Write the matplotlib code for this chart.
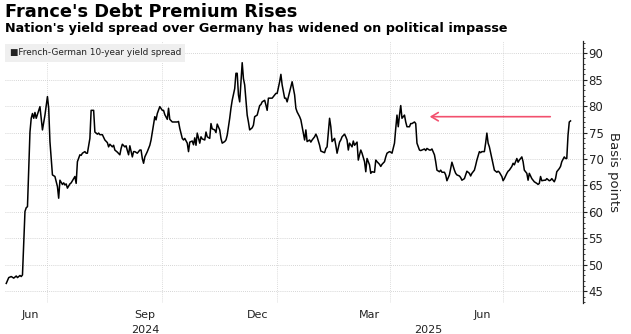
import matplotlib
matplotlib.use("Agg")
import matplotlib.pyplot as plt
import matplotlib.dates as mdates
import matplotlib.transforms as mtransforms
from matplotlib.ticker import MultipleLocator, FixedLocator
import pandas as pd

# French-German 10-year yield spread, basis points
dates = [
    "2024-05-29", "2024-05-31", "2024-06-02", "2024-06-04", "2024-06-06", "2024-06-07",
    "2024-06-09", "2024-06-10", "2024-06-11", "2024-06-13", "2024-06-14", "2024-06-15",
    "2024-06-17", "2024-06-18", "2024-06-19", "2024-06-20", "2024-06-21", "2024-06-22",
    "2024-06-24", "2024-06-25", "2024-06-27", "2024-06-29", "2024-07-01", "2024-07-02",
    "2024-07-03", "2024-07-05", "2024-07-07", "2024-07-09", "2024-07-10", "2024-07-11",
    "2024-07-13", "2024-07-14", "2024-07-15", "2024-07-16", "2024-07-17", "2024-07-19",
    "2024-07-20", "2024-07-21", "2024-07-23", "2024-07-24", "2024-07-25", "2024-07-27",
    "2024-07-28", "2024-07-29", "2024-07-31", "2024-08-01", "2024-08-02", "2024-08-04",
    "2024-08-05", "2024-08-07", "2024-08-08", "2024-08-10", "2024-08-11", "2024-08-12",
    "2024-08-14", "2024-08-16", "2024-08-18", "2024-08-19", "2024-08-20", "2024-08-22",
    "2024-08-23", "2024-08-24", "2024-08-26", "2024-08-28", "2024-08-29", "2024-08-30",
    "2024-09-01", "2024-09-02", "2024-09-03", "2024-09-04", "2024-09-05", "2024-09-07",
    "2024-09-08", "2024-09-09", "2024-09-11", "2024-09-13", "2024-09-14", "2024-09-15",
    "2024-09-16", "2024-09-17", "2024-09-19", "2024-09-21", "2024-09-22", "2024-09-23",
    "2024-09-25", "2024-09-26", "2024-09-27", "2024-09-29", "2024-10-01", "2024-10-02",
    "2024-10-03", "2024-10-05", "2024-10-06", "2024-10-07", "2024-10-09", "2024-10-11",
    "2024-10-13", "2024-10-14", "2024-10-15", "2024-10-17", "2024-10-18", "2024-10-19",
    "2024-10-21", "2024-10-22", "2024-10-23", "2024-10-25", "2024-10-26", "2024-10-27",
    "2024-10-28", "2024-10-29", "2024-10-31", "2024-11-01", "2024-11-02", "2024-11-04",
    "2024-11-05", "2024-11-06", "2024-11-08", "2024-11-09", "2024-11-10", "2024-11-12",
    "2024-11-13", "2024-11-14", "2024-11-16", "2024-11-17", "2024-11-18", "2024-11-20",
    "2024-11-21", "2024-11-22", "2024-11-24", "2024-11-25", "2024-11-26", "2024-11-28",
    "2024-11-29", "2024-11-30", "2024-12-01", "2024-12-02", "2024-12-03", "2024-12-04",
    "2024-12-05", "2024-12-06", "2024-12-08", "2024-12-09", "2024-12-10", "2024-12-12",
    "2024-12-13", "2024-12-14", "2024-12-16", "2024-12-18", "2024-12-19", "2024-12-20",
    "2024-12-22", "2024-12-23", "2024-12-24", "2024-12-25", "2024-12-27", "2024-12-28",
    "2024-12-30", "2024-12-31", "2025-01-01", "2025-01-03", "2025-01-04", "2025-01-05",
    "2025-01-07", "2025-01-08", "2025-01-09", "2025-01-11", "2025-01-12", "2025-01-13",
    "2025-01-15", "2025-01-16", "2025-01-17", "2025-01-19", "2025-01-20", "2025-01-21",
    "2025-01-23", "2025-01-24", "2025-01-25", "2025-01-27", "2025-01-28", "2025-01-29",
    "2025-01-31", "2025-02-01", "2025-02-02", "2025-02-04", "2025-02-05", "2025-02-06",
    "2025-02-08", "2025-02-09", "2025-02-10", "2025-02-12", "2025-02-13", "2025-02-14",
    "2025-02-16", "2025-02-17", "2025-02-18", "2025-02-20", "2025-02-21", "2025-02-22",
    "2025-02-24", "2025-02-25", "2025-02-26", "2025-02-27", "2025-02-28", "2025-03-02",
    "2025-03-03", "2025-03-04", "2025-03-06", "2025-03-07", "2025-03-08", "2025-03-09",
    "2025-03-10", "2025-03-12", "2025-03-13", "2025-03-14", "2025-03-16", "2025-03-17",
    "2025-03-18", "2025-03-20", "2025-03-21", "2025-03-22", "2025-03-24", "2025-03-25",
    "2025-03-26", "2025-03-28", "2025-03-29", "2025-03-30", "2025-04-01", "2025-04-02",
    "2025-04-03", "2025-04-05", "2025-04-06", "2025-04-07", "2025-04-08", "2025-04-09",
    "2025-04-10", "2025-04-11", "2025-04-13", "2025-04-14", "2025-04-15", "2025-04-17",
    "2025-04-18", "2025-04-19", "2025-04-21", "2025-04-22", "2025-04-23", "2025-04-25",
    "2025-04-26", "2025-04-27", "2025-04-29", "2025-04-30", "2025-05-01", "2025-05-03",
    "2025-05-04", "2025-05-05", "2025-05-07", "2025-05-08", "2025-05-09", "2025-05-11",
    "2025-05-12", "2025-05-13", "2025-05-15", "2025-05-16", "2025-05-17", "2025-05-19",
    "2025-05-20", "2025-05-21", "2025-05-23", "2025-05-24", "2025-05-25", "2025-05-27",
    "2025-05-28", "2025-05-29", "2025-05-31", "2025-06-01", "2025-06-02", "2025-06-04",
    "2025-06-05", "2025-06-06", "2025-06-08", "2025-06-09", "2025-06-10", "2025-06-12",
    "2025-06-13", "2025-06-14", "2025-06-16", "2025-06-17", "2025-06-18", "2025-06-19",
    "2025-06-20", "2025-06-22", "2025-06-23", "2025-06-24", "2025-06-26", "2025-06-27",
    "2025-06-28", "2025-06-30", "2025-07-01", "2025-07-02", "2025-07-04", "2025-07-05",
    "2025-07-06", "2025-07-08", "2025-07-09", "2025-07-10", "2025-07-12", "2025-07-13",
    "2025-07-14", "2025-07-16", "2025-07-17", "2025-07-18", "2025-07-20", "2025-07-21",
    "2025-07-22", "2025-07-24", "2025-07-25", "2025-07-26", "2025-07-28", "2025-07-29",
    "2025-07-30", "2025-07-31", "2025-08-01", "2025-08-03", "2025-08-04", "2025-08-05",
    "2025-08-07", "2025-08-08", "2025-08-09", "2025-08-11", "2025-08-12", "2025-08-13",
    "2025-08-15", "2025-08-16", "2025-08-17", "2025-08-19", "2025-08-20", "2025-08-21",
    "2025-08-22", "2025-08-23", "2025-08-24",
]
spread = [
    46.5, 47.6, 47.8, 47.5, 47.9, 47.6,
    48.0, 47.8, 48.1, 60.1, 60.8, 61.0,
    75.1, 77.7, 78.6, 77.7, 78.8, 77.7,
    79.2, 79.9, 75.5, 78.3, 81.8, 79.6,
    73.3, 67.0, 66.7, 64.8, 62.6, 66.0,
    65.2, 65.5, 65.1, 65.3, 64.5, 65.3,
    65.5, 65.9, 66.7, 65.4, 69.5, 70.8,
    70.7, 71.1, 71.4, 71.1, 71.1, 73.9,
    79.2, 79.2, 75.1, 74.7, 74.9, 74.6,
    74.6, 73.6, 73.1, 72.3, 72.8, 72.3,
    72.6, 71.7, 71.3, 70.8, 72.0, 72.8,
    72.3, 72.5, 71.6, 70.8, 72.5, 70.4,
    71.4, 71.4, 71.1, 71.7, 71.7, 70.1,
    69.2, 70.4, 71.4, 72.6, 73.6, 75.1,
    78.0, 77.4, 78.6, 79.9, 79.2, 79.2,
    78.4, 77.5, 79.6, 77.5, 77.0, 77.0,
    77.0, 77.1, 75.8, 73.9, 73.6, 73.9,
    73.0, 71.4, 73.2, 73.4, 72.7, 74.0,
    72.6, 74.9, 73.0, 74.2, 73.8, 73.6,
    75.1, 74.2, 73.9, 76.7, 75.7, 75.5,
    75.0, 76.6, 75.5, 73.9, 73.0, 73.3,
    73.6, 74.5, 77.7, 79.6, 81.1, 83.3,
    86.2, 86.2, 82.1, 80.8, 84.6, 88.2,
    85.2, 84.0, 78.3, 77.0, 75.5, 75.9,
    76.4, 78.0, 78.3, 80.1, 80.3, 80.8,
    81.1, 80.2, 79.2, 81.5, 81.5, 81.5,
    82.1, 82.4, 82.4, 84.6, 86.0, 84.0,
    81.5, 81.5, 80.8, 82.7, 83.6, 84.6,
    82.1, 79.6, 78.9, 78.0, 77.4, 76.1,
    73.6, 75.5, 73.3, 73.6, 73.2, 73.6,
    74.2, 74.7, 74.2, 72.6, 71.5, 71.4,
    71.2, 72.0, 72.3, 77.7, 76.1, 73.3,
    73.9, 72.6, 71.1, 73.2, 73.6, 74.2,
    74.7, 74.2, 73.6, 71.7, 73.0, 72.3,
    73.4, 72.6, 73.2, 69.8, 70.8, 71.7,
    71.1, 69.5, 67.6, 70.1, 68.9, 67.3,
    67.6, 67.5, 69.8, 69.5, 69.0, 68.6,
    69.0, 69.5, 70.4, 71.1, 71.4, 71.3,
    71.1, 73.0, 75.8, 78.3, 76.1, 78.3,
    80.1, 77.7, 78.3, 77.0, 76.1, 76.1,
    76.7, 76.7, 77.0, 76.7, 73.0, 71.7,
    71.6, 71.7, 71.9, 71.6, 72.0, 71.7,
    71.7, 71.9, 70.8, 69.5, 67.9, 67.6,
    67.9, 67.5, 67.5, 67.0, 65.9, 67.0,
    68.2, 69.4, 67.9, 67.3, 67.0, 66.8,
    66.5, 66.0, 66.3, 67.0, 67.7, 67.3,
    66.8, 67.3, 67.9, 68.8, 69.8, 71.4,
    71.2, 71.4, 71.4, 73.0, 74.9, 73.0,
    72.3, 70.1, 68.9, 67.9, 67.5, 67.7,
    67.5, 66.7, 65.9, 66.3, 67.3, 67.7,
    67.9, 68.6, 69.2, 68.9, 70.1, 69.4,
    69.8, 70.4, 69.5, 67.9, 67.3, 66.0,
    67.3, 66.3, 66.0, 65.7, 65.4, 65.2,
    65.4, 66.7, 65.9, 66.0, 66.0, 66.3,
    65.9, 66.0, 66.3, 65.7, 66.3, 67.6,
    68.2, 68.6, 69.5, 70.4, 70.1, 70.1,
    74.5, 77.0, 77.2,
]

# axis labels
month_labels = ["Jun", "Sep", "Dec", "Mar", "Jun"]
month_label_dates = ["2024-06-17", "2024-09-17", "2024-12-16", "2025-03-16", "2025-06-14"]
grid_dates = ["2024-07-01", "2024-10-01", "2025-01-01", "2025-04-01", "2025-07-01"]
year_labels = ["2024", "2025"]
year_label_dates = ["2024-09-17", "2025-05-02"]
y_ticks = [45, 50, 55, 60, 65, 70, 75, 80, 85, 90]

# red arrow: from the latest level back to the April peak level
arrow_start = ("2025-08-10", 78.0)
arrow_end = ("2025-05-01", 78.0)

x = pd.to_datetime(dates)

fig = plt.figure(figsize=(6.31, 3.34), dpi=100)
ax = fig.add_axes([5 / 631, 1 - 303 / 334, 578 / 631, 262 / 334])

ax.plot(x, spread, color="black", lw=1.1, solid_joinstyle="round")

ax.set_xlim(pd.Timestamp("2024-05-28"), pd.Timestamp("2025-09-03"))
ax.set_ylim(42.8, 92.3)

# y axis on the right
ax.yaxis.tick_right()
ax.yaxis.set_label_position("right")
ax.set_yticks(y_ticks)
ax.yaxis.set_minor_locator(MultipleLocator(1))
ax.tick_params(axis="y", which="major", length=3, width=0.8, labelsize=8.5,
               pad=1, colors="#222222")
ax.tick_params(axis="y", which="minor", length=1.5, width=0.6, colors="#222222")
ax.set_ylabel("Basis points", rotation=270, labelpad=12, fontsize=9.5, color="#222222")

# x axis: month labels mid-month, gridlines at quarter boundaries
ax.set_xticks(pd.to_datetime(month_label_dates))
ax.set_xticklabels(month_labels)
ax.xaxis.set_minor_locator(FixedLocator(mdates.date2num(pd.to_datetime(grid_dates))))
ax.tick_params(axis="x", which="both", length=0, labelsize=8, pad=5, colors="#222222")

ax.grid(axis="y", which="major", color="#c8c8c8", ls=(0, (1, 1.5)), lw=0.6)
ax.grid(axis="x", which="minor", color="#d0d0d0", ls=(0, (1, 1.5)), lw=0.6)
ax.grid(axis="x", which="major", visible=False)

for side in ["top", "left", "bottom"]:
    ax.spines[side].set_visible(False)
ax.spines["right"].set_linewidth(0.9)
ax.spines["right"].set_color("#222222")

trans = mtransforms.blended_transform_factory(ax.transData, ax.transAxes)
for lab, d in zip(year_labels, year_label_dates):
    ax.text(pd.Timestamp(d), -0.085, lab, transform=trans, ha="center", va="top",
            fontsize=8, color="#222222")

ax.annotate("", xy=(pd.Timestamp(arrow_end[0]), arrow_end[1]),
            xytext=(pd.Timestamp(arrow_start[0]), arrow_start[1]),
            arrowprops=dict(arrowstyle="->,head_length=0.5,head_width=0.3",
                            color="#f2506e", lw=1.2))

# legend box
ax.text(0.008, 0.972, "\u25a0French-German 10-year yield spread", transform=ax.transAxes,
        ha="left", va="top", fontsize=6.4, color="#222222",
        bbox=dict(boxstyle="square,pad=0.5", fc="#efefef", ec="none"))

fig.text(5 / 631, 1 - 3 / 334, "France's Debt Premium Rises", ha="left", va="top",
         fontsize=12.8, fontweight="bold", color="black")
fig.text(5 / 631, 1 - 22 / 334, "Nation's yield spread over Germany has widened on political impasse",
         ha="left", va="top", fontsize=9.2, fontweight="bold", color="black")

fig.savefig("out.png", dpi=100)
